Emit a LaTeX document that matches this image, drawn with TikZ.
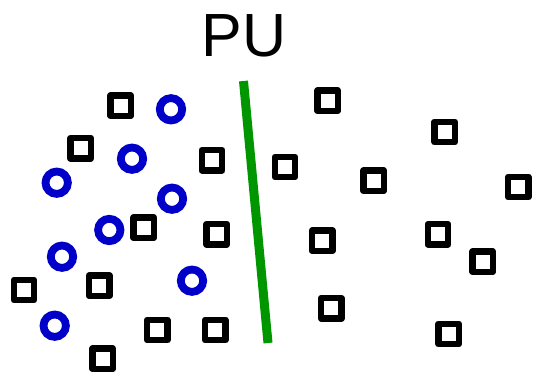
\documentclass[tikz,border=0pt]{standalone}
\usepackage{fontspec}
\setmainfont{Liberation Sans}
\definecolor{sepgreen}{RGB}{0,150,0}
\definecolor{ptblue}{RGB}{0,0,200}
\begin{document}
\begin{tikzpicture}[x=1pt,y=-1pt,
  sq/.style={draw=black,line width=6.2pt,rectangle,minimum size=20.4pt,inner sep=0pt,line join=round,fill=white},
  ci/.style={draw=ptblue,line width=7.8pt,circle,minimum size=22.4pt,inner sep=0pt},
  sep/.style={draw=sepgreen,line width=9pt}]
\useasboundingbox (0,0) rectangle (533,372);
\node[anchor=base,inner sep=0pt,font=\fontsize{61}{61}\selectfont] (title) at (244,56) {PU};
% separator
\coordinate (ltop) at (243.5,81);
\coordinate (lbot) at (268,343);
\draw[sep] (ltop) -- (lbot);
% left squares
\node[sq] (s1) at (120.7,105.7) {};
\node[sq] (s2) at (80.7,148.3) {};
\node[sq] (s3) at (212,160.3) {};
\node[sq] (s4) at (143.7,227.7) {};
\node[sq] (s5) at (216.7,234.3) {};
\node[sq] (s6) at (99.3,285.7) {};
\node[sq] (s7) at (24,290) {};
\node[sq] (s8) at (157.3,330) {};
\node[sq] (s9) at (215.3,330) {};
\node[sq] (s10) at (102.7,358.7) {};
% right squares
\node[sq] (r1) at (327.7,100.7) {};
\node[sq] (r2) at (444.7,132) {};
\node[sq] (r3) at (285,167) {};
\node[sq] (r4) at (373.7,180.7) {};
\node[sq] (r5) at (518.3,187) {};
\node[sq] (r6) at (322.3,240.7) {};
\node[sq] (r7) at (438,234.3) {};
\node[sq] (r8) at (482.7,261.7) {};
\node[sq] (r9) at (331.3,308.3) {};
\node[sq] (r10) at (448.7,334) {};
% circles
\node[ci] (c1) at (171,109.3) {};
\node[ci] (c2) at (132,158.7) {};
\node[ci] (c3) at (56.7,182.7) {};
\node[ci] (c4) at (172,198.7) {};
\node[ci] (c5) at (109.3,230) {};
\node[ci] (c6) at (62,256.7) {};
\node[ci] (c7) at (192,280.7) {};
\node[ci] (c8) at (54.7,325.7) {};
\end{tikzpicture}
\end{document}
